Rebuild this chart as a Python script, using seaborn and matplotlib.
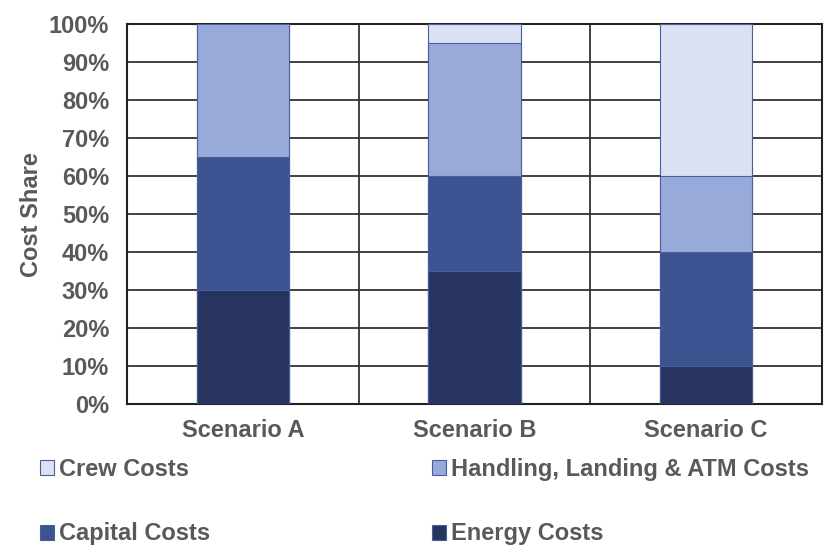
import numpy as np
import pandas as pd
import matplotlib.pyplot as plt
import seaborn as sns
from matplotlib.patches import Patch
from matplotlib.ticker import PercentFormatter

### DATA ###
scenarios = ["Scenario A", "Scenario B", "Scenario C"]
energy = [30, 35, 10]
capital = [35, 25, 30]
handling = [35, 35, 20]
crew = [0, 5, 40]

series_names = ["Energy Costs", "Capital Costs", "Handling, Landing & ATM Costs", "Crew Costs"]
colors = {"Energy Costs": "#26345F",
          "Capital Costs": "#3C5392",
          "Handling, Landing & ATM Costs": "#97AAD9",
          "Crew Costs": "#DAE1F2"}
edge = "#4A5E9C"
text_gray = "#595959"

### FIGURE ###
sns.set_style("white")
plt.rcParams['font.family'] = ['Liberation Sans', 'DejaVu Sans']
plt.rcParams['font.weight'] = 'bold'

fig = plt.figure(figsize=(8.37, 5.51), dpi=100)
ax = fig.add_axes([0.152, 0.267, 0.83, 0.689])

# stacked bars: draw cumulative totals from the top layer down
layers = [energy, capital, handling, crew]
cum = np.cumsum(np.array(layers), axis=0)
for i in range(len(layers) - 1, -1, -1):
    df = pd.DataFrame({"Scenario": scenarios, "Share": cum[i]})
    sns.barplot(data=df, x="Scenario", y="Share", color=colors[series_names[i]],
                width=0.4, edgecolor=edge, linewidth=0.8, saturation=1, ax=ax,
                zorder=3)

ax.set_ylim(0, 100)
ax.set_xlim(-0.5, 2.5)
ax.set_yticks(np.arange(0, 101, 10))
ax.yaxis.set_major_formatter(PercentFormatter(decimals=0))
ax.set_xticks([0, 1, 2])
ax.set_xticks([0.5, 1.5], minor=True)
ax.grid(axis="y", which="major", color="#333333", linewidth=1.3, zorder=1)
ax.grid(axis="x", which="minor", color="#333333", linewidth=1.3, zorder=1)
ax.set_axisbelow(True)
for s in ax.spines.values():
    s.set_visible(True)
    s.set_color("#222222")
    s.set_linewidth(1.5)
ax.tick_params(axis="both", which="both", length=0, labelsize=17, colors=text_gray)
ax.tick_params(axis="y", pad=13)
ax.tick_params(axis="x", pad=11)
ax.set_xlabel("")
ax.set_ylabel("Cost Share", fontsize=17, color=text_gray, fontweight="bold", labelpad=4)

handles = [Patch(facecolor=colors[n], edgecolor=edge, linewidth=0.8, label=n)
           for n in ["Crew Costs", "Capital Costs", "Handling, Landing & ATM Costs", "Energy Costs"]]
leg = fig.legend(handles=handles, ncol=2, loc="upper left", bbox_to_anchor=(0.034, 0.19),
                 frameon=False, fontsize=17, handlelength=0.6, handleheight=0.6,
                 handletextpad=0.2, columnspacing=9.4, labelspacing=1.75, borderpad=0)
for t in leg.get_texts():
    t.set_color(text_gray)

fig.savefig("out.png", dpi=100)
